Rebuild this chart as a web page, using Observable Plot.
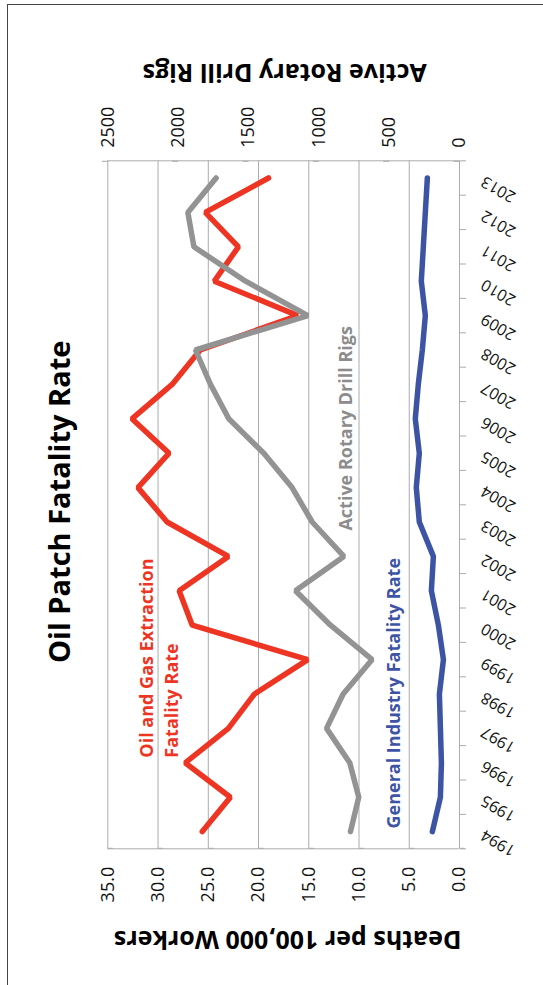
<!DOCTYPE html>
<html><head><meta charset="utf-8">
<script src="https://cdn.jsdelivr.net/npm/d3@7"></script>
<script src="https://cdn.jsdelivr.net/npm/@observablehq/plot@0.6"></script>
<style>
body{margin:0;background:#fff;}
#wrap{position:relative;width:543px;height:985px;overflow:hidden;}
#frame{position:absolute;left:7px;top:4px;width:600px;height:1000px;border-left:1px solid #444;border-top:1.5px solid #444;pointer-events:none;}
</style></head><body>
<div id="wrap"><div id="chart"></div><div id="frame"></div></div>
<script>
// ---- data ----
const years = [1994,1995,1996,1997,1998,1999,2000,2001,2002,2003,2004,2005,2006,2007,2008,2009,2010,2011,2012,2013];
const oilGasRate = [25.6,22.8,27.3,23.0,20.4,15.1,26.6,27.9,23.0,29.1,32.0,28.9,32.6,28.6,25.8,16.1,24.4,22.0,25.3,19.0];
const generalRate = [2.7,1.9,1.8,1.9,2.0,1.6,2.1,2.8,2.6,4.0,4.3,4.0,4.4,4.1,3.7,3.4,3.8,3.6,3.4,3.2];
const rigCount = [775,716,780,945,827,621,917,1166,822,1047,1190,1391,1640,1770,1877,1078,1521,1888,1931,1730];
const deathTicks = [0,5,10,15,20,25,30,35];
const rigTicks = [0,500,1000,1500,2000,2500];
const titleText = "Oil Patch Fatality Rate";
const leftAxisTitle = "Deaths per 100,000 Workers";
const rightAxisTitle = "Active Rotary Drill Rigs";
const oilLabel = "Oil and Gas Extraction\nFatality Rate";
const rigLabel = "Active Rotary Drill Rigs";
const generalLabel = "General Industry Fatality Rate";

const DEATH_MAX = 35, RIG_MAX = 2500;
const toDeaths = r => r * DEATH_MAX / RIG_MAX;

const oil = years.map((year, i) => ({year, value: oilGasRate[i]}));
const general = years.map((year, i) => ({year, value: generalRate[i]}));
const rigs = years.map((year, i) => ({year, value: toDeaths(rigCount[i])}));
const boundaries = years.map(y => y - 0.5).concat([years[years.length - 1] + 0.5]);

const RED = "#EE3524", GRAY = "#939393", BLUE = "#3D54A5", GRID = "#ababab";
const lineOpts = {strokeWidth: 5.5, strokeLinecap: "round", strokeLinejoin: "miter"};

const chart = Plot.plot({
  width: 543, height: 985,
  marginLeft: 107.3, marginRight: 84, marginTop: 160.3, marginBottom: 136.7,
  style: {fontFamily: "'Open Sans', sans-serif", background: "white", color: "#111"},
  x: {domain: [DEATH_MAX, 0], axis: null, label: null},
  y: {domain: [boundaries[0], boundaries[boundaries.length - 1]], axis: null, label: null},
  marks: [
    Plot.ruleX(deathTicks, {stroke: GRID, strokeWidth: 1}),
    Plot.ruleY([boundaries[0], boundaries[boundaries.length - 1]], {stroke: GRID, strokeWidth: 1}),
    // bottom axis (deaths)
    Plot.axisX({ticks: deathTicks, anchor: "bottom", tickSize: 5, tickPadding: 13, stroke: GRID,
      tickFormat: d => d.toFixed(1), rotate: -90, textAnchor: "end", lineAnchor: "middle",
      fontSize: 18, label: null}),
    // top axis (rigs)
    Plot.axisX({ticks: rigTicks.map(toDeaths), anchor: "top", tickSize: 6, tickPadding: 7, stroke: GRID,
      tickFormat: d => String(Math.round(d * RIG_MAX / DEATH_MAX)), rotate: -90, textAnchor: "start", lineAnchor: "middle",
      fontSize: 18, label: null}),
    // year tick marks between categories
    Plot.axisY({ticks: boundaries, anchor: "right", tickSize: 6, stroke: GRID, tickFormat: () => "", label: null}),
    // year labels
    Plot.axisY({ticks: years, anchor: "right", tickSize: 0, tickPadding: 0, tickFormat: d => String(d),
      rotate: 210, textAnchor: "end", lineAnchor: "middle", dx: 23, dy: 2, fontSize: 16, label: null}),
    // series
    Plot.line(oil, {x: "value", y: "year", stroke: RED, ...lineOpts}),
    Plot.line(general, {x: "value", y: "year", stroke: BLUE, ...lineOpts}),
    Plot.line(rigs, {x: "value", y: "year", stroke: GRAY, ...lineOpts}),
    // titles
    Plot.text([titleText], {frameAnchor: "left", textAnchor: "middle", rotate: -90, dx: -47, dy: -3, fontSize: 29, fontWeight: "bold", fill: "#000"}),
    Plot.text([leftAxisTitle], {frameAnchor: "bottom", textAnchor: "middle", rotate: 180, dx: 4, dy: 82, fontSize: 25, fontWeight: "bold", fill: "#000"}),
    Plot.text([rightAxisTitle], {frameAnchor: "top", textAnchor: "middle", rotate: 180, dx: 1, dy: -79, fontSize: 25, fontWeight: "bold", fill: "#000"}),
    // series labels
    Plot.text([oilLabel], {x: 30.1, y: 1996.15, rotate: -90, textAnchor: "start", lineAnchor: "middle", lineHeight: 1.4,
      fontSize: 18, fontWeight: 700, fill: RED}),
    Plot.text([rigLabel], {x: 11.3, y: 2002.75, rotate: -90, textAnchor: "start", lineAnchor: "middle",
      fontSize: 18, fontWeight: 700, fill: "#8c8c8c"}),
    Plot.text([generalLabel], {x: 6.5, y: 1994.09, rotate: -90, textAnchor: "start", lineAnchor: "middle",
      fontSize: 18, fontWeight: 700, fill: BLUE})
  ]
});
document.getElementById("chart").appendChild(chart);
</script>
</body></html>
